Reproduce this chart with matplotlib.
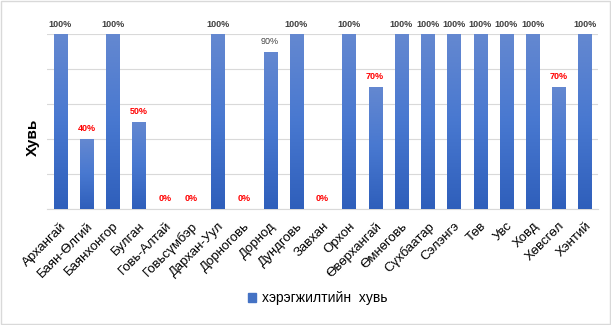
import matplotlib
matplotlib.use("Agg")
import matplotlib.pyplot as plt
import numpy as np
from matplotlib.colors import LinearSegmentedColormap
from matplotlib.patches import Rectangle

plt.rcParams['font.family'] = ['Liberation Sans', 'DejaVu Sans']

aimags = ['Архангай', 'Баян-Өлгий', 'Баянхонгор', 'Булган', 'Говь-Алтай',
          'Говьсүмбэр', 'Дархан-Уул', 'Дорноговь', 'Дорнод', 'Дундговь',
          'Завхан', 'Орхон', 'Өвөрхангай', 'Өмнөговь', 'Сүхбаатар',
          'Сэлэнгэ', 'Төв', 'Увс', 'Ховд', 'Хөвсгөл', 'Хэнтий']
pct = [100, 40, 100, 50, 0, 0, 100, 0, 90, 100, 0, 100, 70, 100, 100,
       100, 100, 100, 100, 70, 100]
series_name = 'хэрэгжилтийн  хувь'

fig = plt.figure(figsize=(6.11, 3.25), dpi=100)
ax = fig.add_axes([0.077, 0.357, 0.902, 0.538])

x = np.arange(len(aimags))
vals = np.array(pct) / 100.0
bars = ax.bar(x, vals, width=0.5, color='#4472C4', zorder=2)

# gradient fill like excel: lighter on top, darker at the bottom
grad = LinearSegmentedColormap.from_list('g', ['#2F5FBB', '#4878D0', '#6488D0'])
img = np.linspace(0, 1, 100).reshape(-1, 1)
for b in bars:
    if b.get_height() <= 0:
        continue
    x0, w, h = b.get_x(), b.get_width(), b.get_height()
    im = ax.imshow(img, cmap=grad, aspect='auto', origin='lower',
                   extent=[x0, x0 + w, 0, h], zorder=3)
    im.set_clip_path(b)
    b.set_facecolor('none')

for xi, p in zip(x, pct):
    col = '#404040' if p >= 90 else '#FF0000'
    ax.annotate(f'{p}%', (xi, p / 100.0), xytext=(0, 4), textcoords='offset points',
                ha='center', va='bottom', fontsize=6.5, color=col,
                fontweight='bold' if p != 90 else 'normal', zorder=4)

ax.set_xlim(-0.5, len(aimags) - 0.5)
ax.set_ylim(0, 1.0)
ax.set_yticks(np.arange(0, 1.01, 0.2))
ax.set_yticklabels([])
ax.tick_params(axis='y', length=0)
ax.grid(axis='y', color='#D9D9D9', linewidth=0.8, zorder=0)
ax.set_axisbelow(True)
for s in ['top', 'right', 'left']:
    ax.spines[s].set_visible(False)
ax.spines['bottom'].set_color('#D9D9D9')

ax.set_xticks(x)
ax.set_xticklabels(aimags, rotation=45, ha='right', rotation_mode='anchor',
                   fontsize=9.5, color='#000000')
ax.tick_params(axis='x', length=0, pad=8)

ax.set_ylabel('Хувь', fontsize=11, fontweight='bold')
ax.yaxis.set_label_coords(-0.013, 0.41)

handle = Rectangle((0, 0), 1, 1, color='#4472C4')
fig.legend([handle], [series_name], loc='center', bbox_to_anchor=(0.52, 0.083),
           frameon=False, fontsize=10, handlelength=0.6, handleheight=0.6,
           handletextpad=0.4)

fig.patches.append(Rectangle((0.002, 0.003), 0.996, 0.994, transform=fig.transFigure,
                             fill=False, edgecolor='#D9D9D9', linewidth=1))

fig.savefig('out.png', dpi=100)
